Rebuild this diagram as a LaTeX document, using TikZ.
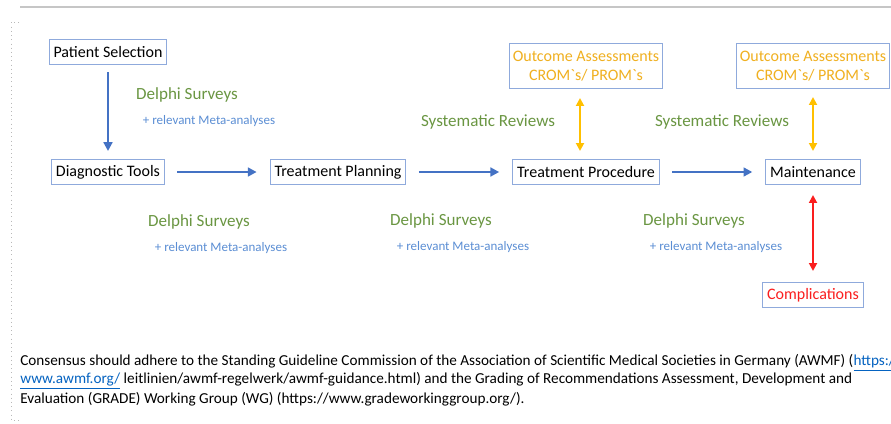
\documentclass[tikz,border=0pt]{standalone}
\usepackage{fontspec}
\setmainfont{Carlito}[Ligatures=TeXOff]
\usetikzlibrary{arrows.meta}

\definecolor{boxline}{RGB}{143,170,220}
\definecolor{flowblue}{RGB}{68,114,196}
\definecolor{delphigreen}{RGB}{106,150,66}
\definecolor{metablue}{RGB}{91,142,212}
\definecolor{outcomeyellow}{RGB}{255,192,0}
\definecolor{outcometext}{RGB}{240,176,32}
\definecolor{compred}{RGB}{250,30,30}
\definecolor{linkblue}{RGB}{5,99,193}

\begin{document}
\begin{tikzpicture}[x=0.02cm,y=-0.02cm,
  stage/.style={draw=boxline,line width=0.6pt,inner xsep=2.5pt,inner ysep=0pt,
    minimum height=0.5cm,font=\fontsize{9.1}{11}\selectfont},
  outcome/.style={stage,text=outcometext,align=center,minimum height=0.9cm,inner xsep=2pt},
  flow/.style={flowblue,line width=1.3pt,-{Triangle[length=5pt,width=5pt]}},
  twoway/.style={line width=1.3pt,{Triangle[length=4.5pt,width=4.5pt]}-{Triangle[length=4.5pt,width=4.5pt]}},
  delphi/.style={text=delphigreen,font=\fontsize{9.7}{11}\selectfont},
  meta/.style={text=metablue,font=\fontsize{7.4}{9}\selectfont},
  footnote/.style={anchor=west,inner sep=0pt,font=\fontsize{8.66}{10}\selectfont}]

\useasboundingbox (0,0) rectangle (891,423);
\fill[white] (0,0) rectangle (891,423);

% Frame
\draw[gray!45,line width=1pt] (20,7) -- (891,7);
\draw[gray!55,dotted] (19,22) -- (11,22) -- (11,420) -- (19,420);

% Stages
\node[stage] (psel) at (108,52) {Patient Selection};
\node[stage] (diag) at (108,172) {Diagnostic Tools};
\node[stage] (plan) at (338,172) {Treatment Planning};
\node[stage] (proc) at (586,172) {Treatment Procedure};
\node[stage] (maint) at (813,172) {Maintenance};

% Outcomes and complications
\node[outcome] (out1) at (586,66) {Outcome Assessments\\CROM`s/ PROM`s};
\node[outcome] (out2) at (813,66) {Outcome Assessments\\CROM`s/ PROM`s};
\node[stage,text=compred] (comp) at (813,295) {Complications};

% Flow arrows
\draw[flow,shorten <=0.14cm,shorten >=0.16cm] (psel) -- (diag);
\foreach \a/\b in {diag/plan,plan/proc,proc/maint}
  \draw[flow,shorten <=0.25cm,shorten >=0.26cm] (\a) -- (\b);

\draw[twoway,outcomeyellow,shorten <=0.18cm,shorten >=0.16cm]
  ([xshift=-0.12cm]out1.south) -- ([xshift=-0.12cm]proc.north);
\draw[twoway,outcomeyellow,shorten <=0.16cm,shorten >=0.16cm] (out2) -- (maint);
\draw[twoway,compred,shorten <=0.2cm,shorten >=0.22cm] (maint) -- (comp);

% Consensus methods
\foreach \n/\x/\y in {ds1/187/95,ds2/199/222,ds3/441/221,ds4/694/221} {
  \node[delphi] (\n) at (\x,\y) {Delphi Surveys};
  \node[meta] (\n-meta) at (\x+22,\y+26) {+ relevant Meta-analyses};
}
\node[delphi] (sr1) at (488,122) {Systematic Reviews};
\node[delphi] (sr2) at (722,122) {Systematic Reviews};

% Footnote
\node[footnote] (fn1) at (20,363) {Consensus should adhere to the Standing Guideline Commission of the Association of Scientific Medical Societies in Germany (AWMF) (\textcolor{linkblue}{\underline{https:/}}};
\node[footnote] (fn2) at (20,381) {\textcolor{linkblue}{\underline{www.awmf.org/}} leitlinien/awmf-regelwerk/awmf-guidance.html) and the Grading of Recommendations Assessment, Development and};
\node[footnote] (fn3) at (20,399) {Evaluation (GRADE) Working Group (WG) (https://www.gradeworkinggroup.org/).};

\end{tikzpicture}
\end{document}
